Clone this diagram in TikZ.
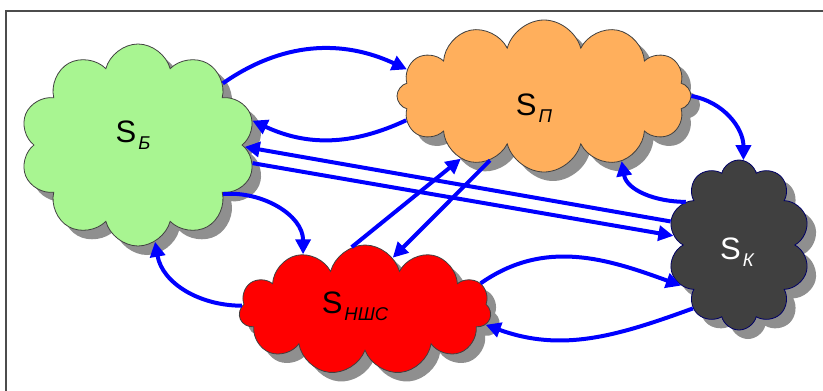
\documentclass[tikz,border=0pt]{standalone}
\usepackage{fontspec}
\setmainfont{Liberation Sans}
\usetikzlibrary{shapes.symbols,shadows,arrows.meta}
\definecolor{cgreen}{RGB}{168,245,145}
\definecolor{corange}{RGB}{255,175,92}
\definecolor{cdark}{RGB}{64,64,64}
\definecolor{cred}{RGB}{255,0,0}
\definecolor{cblue}{RGB}{0,0,255}
\tikzset{
  cl/.style={cloud, cloud ignores aspect, draw=black!75, line width=0.8pt, inner sep=0pt,
    drop shadow={shadow xshift=9pt, shadow yshift=-9pt, fill=black!44, opacity=1}},
  lab/.style={font=\fontsize{31}{31}\selectfont, inner sep=0pt},
  conn/.style={draw=cblue, line width=4pt, -{Triangle[length=15pt,width=15pt]}},
}
\newcommand{\subtx}[1]{\raisebox{-7pt}{\kern2pt\fontsize{18.5}{18.5}\selectfont\itshape #1}}
\begin{document}
\begin{tikzpicture}[x=1pt,y=1pt]
\useasboundingbox (0,0) rectangle (823,-391);
\draw[black!70, line width=1.5pt] (6,-391) -- (6,-11) -- (823,-11);
\node[cl, fill=cgreen, cloud puffs=10, minimum width=236pt, minimum height=202pt] (sb) at (138,-145) {};
\node[cl, fill=corange, cloud puffs=12, minimum width=294pt, minimum height=152pt] (sp) at (544,-96) {};
\node[cl, fill=cdark, draw=black!60!blue, cloud puffs=10, minimum width=142pt, minimum height=170pt] (sk) at (739,-245) {};
\node[cl, fill=cred, cloud puffs=11, minimum width=252pt, minimum height=130pt] (sn) at (365,-310) {};
\node[lab] (tb) at (133,-135) {S\subtx{Б}};
\node[lab] (tp) at (534,-108) {S\subtx{П}};
\node[lab, text=white] (tk) at (737,-252) {S\subtx{К}};
\node[lab] (tn) at (355,-306) {S\subtx{НШС}};
\draw[conn] (sb.36) to[out=35,in=155] (sp.169);
\draw[conn] (sp.190) to[out=205,in=-25] (sb.12);
\draw[conn] (sk.161) -- (sb.-1);
\draw[conn] (sb.-9) -- (sk.172);
\draw[conn] (sn.102) -- (sp.217);
\draw[conn] (sp.230) -- (sn.62);
\draw[conn] (sp.0) to[out=-10,in=90] (sk.87);
\draw[conn] (sk.141) to[out=180,in=-80] (sp.-40);
\draw[conn] (sb.-30) to[out=5,in=90] (sn.138);
\draw[conn] (sn.178) to[out=180,in=-80] (sb.-80);
\draw[conn] (sn.13) to[out=35,in=160] (sk.215);
\draw[conn] (sk.234) to[out=200,in=-20] (sn.-7);
\end{tikzpicture}
\end{document}
